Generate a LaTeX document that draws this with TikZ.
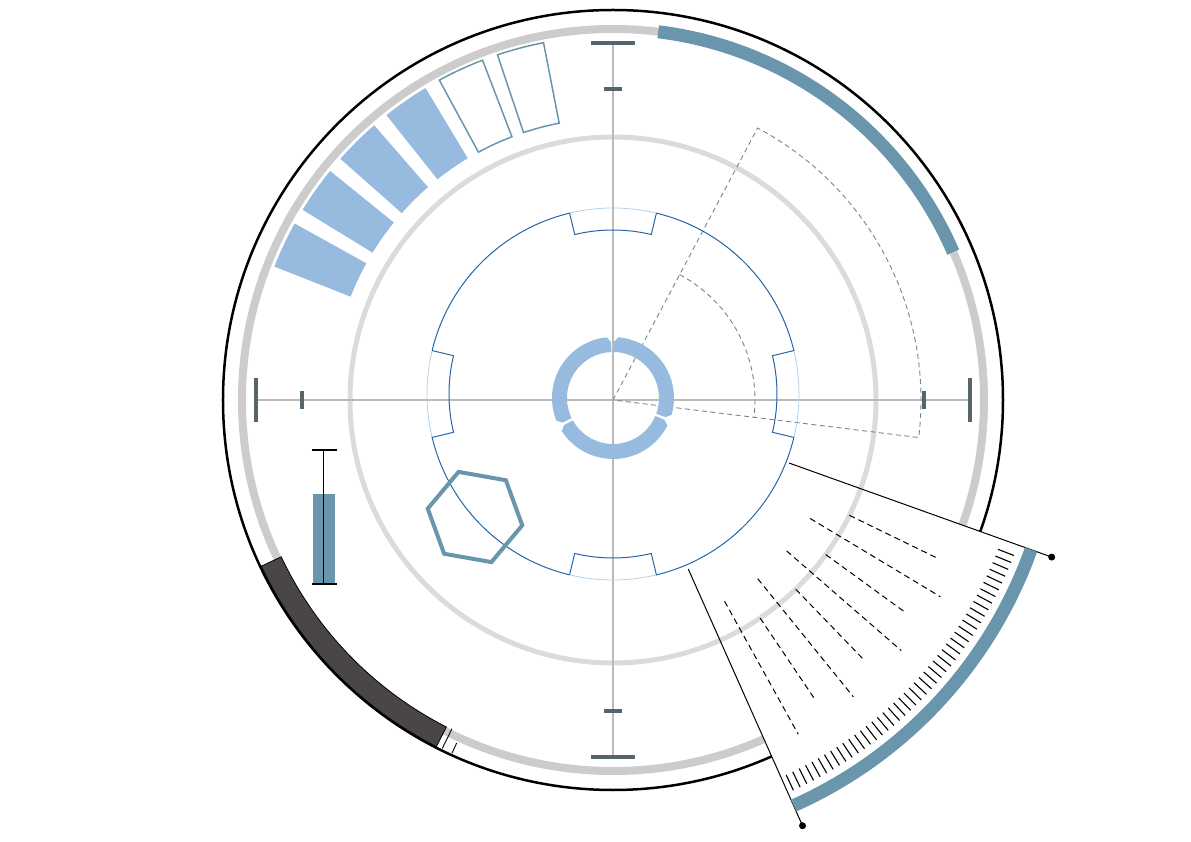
\documentclass[tikz,border=0pt]{standalone}
\definecolor{steelarc}{HTML}{6A96AD}
\definecolor{paleblue}{HTML}{97BBDF}
\definecolor{ringblue}{HTML}{2266A8}
\definecolor{lightring}{HTML}{B3CFEA}
\definecolor{tickslate}{HTML}{56646C}
\definecolor{darkband}{HTML}{4A4646}
\definecolor{dashgray}{HTML}{6F8894}
\begin{document}
\begin{tikzpicture}[x=1pt,y=1pt,
  axisline/.style={line width=1.5pt,black!27},
  tickbar/.style={line width=4pt,tickslate},
  cellfill/.style={fill=paleblue},
  celldraw/.style={draw=steelarc,line width=1.5pt},
  dashgrid/.style={dashgray,line width=0.9pt,dash pattern=on 5pt off 3.5pt},
  raydash/.style={line width=1pt,dash pattern=on 6pt off 4pt}]
\useasboundingbox (-613,-442) rectangle (578,400);
\coordinate (c) at (0,0);
% outer rings
\draw[line width=2.5pt] (c) circle[radius=390];
\draw[line width=8pt,black!20] (c) circle[radius=371];
\draw[line width=13pt,steelarc] (83:371) arc[start angle=83,end angle=23.5,radius=371];
\filldraw[fill=darkband,draw=black,line width=0.8pt] (205.3:367) arc[start angle=205.3,end angle=243,radius=367]
  -- (243:389) arc[start angle=243,end angle=205.3,radius=389] -- cycle;
\draw[line width=0.9pt] (243.9:366) -- (243.9:388);
\draw[line width=0.9pt] (245.5:377) -- (245.5:388);
% zoom wedge (white cover)
\fill[white] (-66:186) -- (-66:466) arc[start angle=-66,end angle=-19.7,radius=466]
  -- (-19.7:186) arc[start angle=-19.7,end angle=-66,radius=186] -- cycle;
% inner grey circle + cross
\draw[line width=5pt,black!14] (c) circle[radius=263];
\draw[axisline] (-357,0) -- (357,0);
\draw[axisline] (0,357) -- (0,-357);
\foreach \a in {0,90,180,270}{
  \draw[tickbar,rotate=\a] (357,-22) -- (357,22);
  \draw[tickbar,rotate=\a] (311,-9) -- (311,9);
}
% cells top left
\foreach \a in {151,141,131,121}
  \fill[cellfill] (\a:282) -- (\a:364) arc[start angle=\a,end angle=\a+7.5,radius=364]
    -- (\a+7.5:282) arc[start angle=\a+7.5,end angle=\a,radius=282] -- cycle;
\foreach \a in {111,101}
  \draw[celldraw] (\a:282) -- (\a:364) arc[start angle=\a,end angle=\a+7.5,radius=364]
    -- (\a+7.5:282) arc[start angle=\a+7.5,end angle=\a,radius=282] -- cycle;
% dashed sector
\draw[dashgrid] (c) -- (62:308) arc[start angle=62,end angle=-7,radius=308] -- cycle;
\draw[dashgrid] (62:142) arc[start angle=62,end angle=-7,radius=142];
% notched ring
\begin{scope}[shift={(0,6)}]
\foreach \b in {0,90,180,270}{
  \draw[lightring,line width=0.8pt] (\b-13.5:186) arc[start angle=\b-13.5,end angle=\b+13.5,radius=186];
  \draw[ringblue,line width=1pt] (\b-13.5:186) -- (\b-13.5:164) arc[start angle=\b-13.5,end angle=\b+13.5,radius=164]
    -- (\b+13.5:186) arc[start angle=\b+13.5,end angle=\b+76.5,radius=186];
}
\end{scope}
% hub ring
\begin{scope}[shift={(0,2)}]
\foreach \p/\q in {92/206,209/337,340/449}
  \fill[paleblue] (\p:46) -- (\p:56) -- (\p+4:61) arc[start angle=\p+4,end angle=\q-4,radius=61]
    -- (\q:56) -- (\q:46) arc[start angle=\q,end angle=\p,radius=46] -- cycle;
\end{scope}
% hexagon
\draw[steelarc,line width=4pt,shift={(-138,-117)}] (-10:48) -- (50:48) -- (110:48) -- (170:48) -- (230:48) -- (290:48) -- cycle;
% error bar
\fill[steelarc] (-300,-94) rectangle (-278,-183);
\draw[line width=1pt] (-289,-50) -- (-289,-184);
\draw[line width=2.5pt] (-301,-50) -- (-276,-50);
\draw[line width=2.5pt] (-301,-184) -- (-276,-184);
% zoom wedge
\coordinate (wtopin) at (-19.7:187);
\coordinate (wtop) at (-19.7:466);
\coordinate (wlowin) at (-66:185);
\coordinate (wlow) at (-66:466);
\draw[line width=1pt] (wtopin) -- (wtop);
\draw[line width=1pt] (wlowin) -- (wlow);
\fill (wtop) circle[radius=3.5];
\fill (wlow) circle[radius=3.5];
\draw[steelarc,line width=13pt] (-66:444) arc[start angle=-66,end angle=-19.7,radius=444];
\foreach \a in {-65.2,-64.2,...,-20.5}
  \draw[line width=1.1pt] (\a:413) -- (\a:430);
\foreach \a in {-26,-36,-46,-56}
  \draw[raydash] (\a:263) -- (\a:360);
\foreach \a in {-31,-41,-51,-61}
  \draw[raydash] (\a:230) -- (\a:382);
\end{tikzpicture}
\end{document}
